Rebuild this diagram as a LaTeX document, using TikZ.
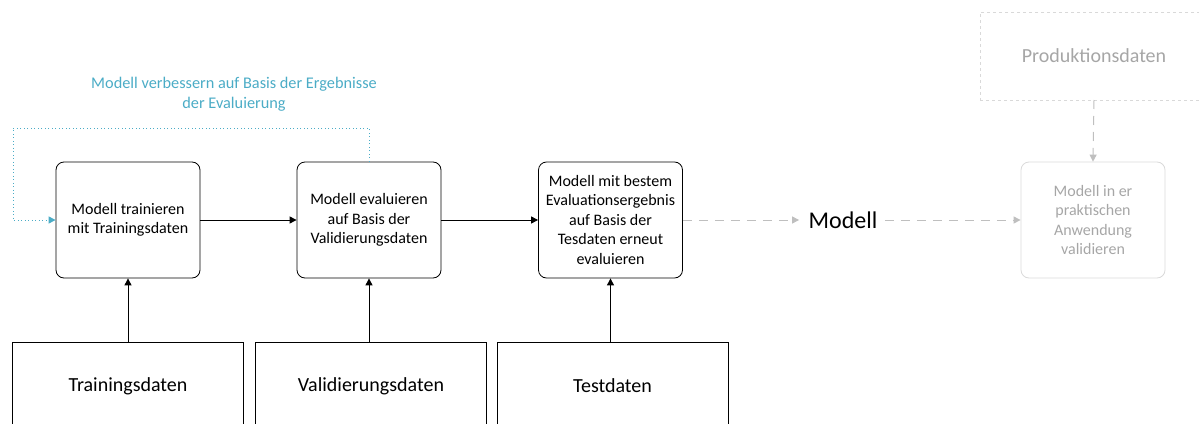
\documentclass[tikz,border=0pt]{standalone}
\usepackage{fontspec}
\setmainfont{Carlito}
\usetikzlibrary{arrows.meta}
\definecolor{fb}{RGB}{75,172,198}
\definecolor{lg}{RGB}{191,191,191}
\definecolor{lt}{RGB}{166,166,166}
\definecolor{lb}{RGB}{217,217,217}
\tikzset{
  proc/.style={draw=black, rounded corners=8pt, minimum width=144pt, minimum height=116pt, align=center, font=\fontsize{16}{19.5}\selectfont, inner sep=2pt, line width=0.8pt},
  data/.style={draw=black, minimum width=231pt, minimum height=110pt, align=center, line width=0.8pt},
  big/.style={font=\fontsize{20}{24}\selectfont},
  arr/.style={-{Triangle[length=7pt,width=7pt]}, line width=1pt},
  garr/.style={-{Triangle[length=7pt,width=7pt]}, draw=lg, line width=1pt, dash pattern=on 9pt off 7pt},
}
\begin{document}
\begin{tikzpicture}[x=1pt,y=-1pt]
\useasboundingbox (0,0) rectangle (1199,423);
\begin{scope}
\clip (0,0) rectangle (1199,423);
\node[proc] (p1) at (128,220) {Modell trainieren\\mit Trainingsdaten};
\node[proc] (p2) at (369,220) {Modell evaluieren\\auf Basis der\\Validierungsdaten};
\node[proc] (p3) at (610.5,220) {Modell mit bestem\\Evaluationsergebnis\\auf Basis der\\Tesdaten erneut\\evaluieren};
\node[proc, draw=lb, text=lt] (p4) at (1093,220) {Modell in er\\praktischen\\Anwendung\\validieren};
\node[data, anchor=north] (d1) at (128,342) {};
\node[data, anchor=north] (d2) at (371,342) {};
\node[data, anchor=north] (d3) at (612.5,342) {};
\node[big] (t1) at (128,386) {Trainingsdaten};
\node[big] (t2) at (371,386) {Validierungsdaten};
\node[big] (t3) at (612.5,386) {Testdaten};
\node[draw=lb, dashed, minimum width=240pt, minimum height=88pt, anchor=north west, inner sep=0pt] (pd) at (980,12) {};
\node[big, text=lt] (pdt) at (1094,56) {Produktionsdaten};
\node[font=\fontsize{24}{28}\selectfont] (m) at (843,220) {Modell};
\node[text=fb, align=center, font=\fontsize{16.3}{19.5}\selectfont] (lab) at (234,94) {Modell verbessern auf Basis der Ergebnisse\\der Evaluierung};
\coordinate (pdb) at (1094,100);
\draw[arr] (p1.east) -- (p2.west);
\draw[arr] (p2.east) -- (p3.west);
\draw[arr] (d1.north) -- (p1.south);
\draw[arr] (d2.north -| p2.south) -- (p2.south);
\draw[arr] (d3.north -| p3.south) -- (p3.south);
\draw[garr] (p3.east) -- ([xshift=-6pt]m.west);
\draw[garr] ([xshift=4pt]m.east) -- (p4.west);
\draw[garr] (pdb) -- (p4.north);
\draw[fb, line width=1pt, dash pattern=on 1pt off 2.5pt, -{Triangle[length=7pt,width=7pt]}] (p2.north) |- (13,128) |- (p1.west);
\end{scope}
\end{tikzpicture}
\end{document}
